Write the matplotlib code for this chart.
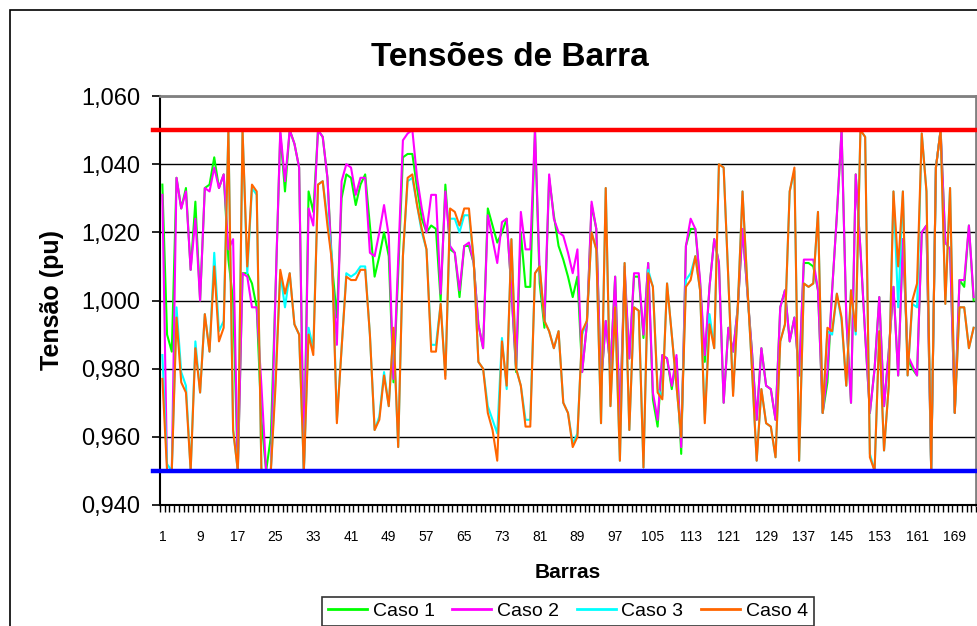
import numpy as np
import matplotlib
matplotlib.use("Agg")
import matplotlib.pyplot as plt
from matplotlib.ticker import FuncFormatter
from matplotlib.patches import Rectangle

plt.rcParams['font.family'] = ['Liberation Sans', 'DejaVu Sans']

# Tensões por barra (pu)
caso1 = [
    1.034, 0.990, 0.985, 1.036, 1.027, 1.033, 1.009, 1.029, 1.000, 1.033,
    1.034, 1.042, 1.033, 1.037, 1.012, 1.000, 0.950, 1.008, 1.008, 1.005,
    0.998, 0.965, 0.950, 0.960, 1.003, 1.049, 1.032, 1.050, 1.046, 1.039,
    0.950, 1.032, 1.026, 1.050, 1.048, 1.036, 1.010, 0.995, 1.030, 1.037,
    1.036, 1.028, 1.034, 1.037, 1.022, 1.007, 1.013, 1.020, 1.013, 0.976,
    1.008, 1.042, 1.043, 1.043, 1.033, 1.024, 1.020, 1.022, 1.021, 1.000,
    1.034, 1.015, 1.014, 1.001, 1.016, 1.016, 1.011, 0.993, 0.986, 1.027,
    1.022, 1.017, 1.020, 1.024, 1.003, 0.979, 1.020, 1.004, 1.004, 1.050,
    1.005, 0.992, 1.036, 1.025, 1.016, 1.012, 1.007, 1.001, 1.007, 0.979,
    0.993, 1.028, 1.021, 0.975, 0.994, 0.980, 1.007, 0.965, 1.008, 0.983,
    1.007, 1.007, 0.989, 1.011, 0.971, 0.963, 0.984, 0.983, 0.974, 0.983,
    0.955, 1.016, 1.021, 1.021, 1.005, 0.982, 1.004, 1.018, 1.011, 0.970,
    0.992, 0.985, 0.998, 1.021, 1.003, 0.985, 0.965, 0.986, 0.975, 0.974,
    0.965, 0.998, 1.003, 0.988, 0.995, 0.978, 1.011, 1.011, 1.010, 1.003,
    0.967, 0.976, 1.003, 1.025, 1.050, 0.995, 0.970, 1.037, 1.015, 0.990,
    0.967, 0.980, 1.001, 0.969, 0.985, 1.004, 0.978, 1.018, 0.983, 0.980,
    0.978, 1.020, 1.022, 0.950, 1.039, 1.050, 1.017, 1.015, 0.967, 1.006,
    1.004, 1.022, 1.000,
]
caso2 = [
    1.031, 0.950, 0.950, 1.036, 1.027, 1.032, 1.009, 1.024, 1.000, 1.033,
    1.032, 1.039, 1.033, 1.037, 1.015, 1.018, 0.950, 1.008, 1.007, 0.998,
    0.998, 0.975, 0.950, 0.950, 1.003, 1.050, 1.035, 1.050, 1.046, 1.039,
    0.950, 1.027, 1.022, 1.050, 1.048, 1.036, 1.008, 0.987, 1.035, 1.040,
    1.039, 1.031, 1.036, 1.036, 1.014, 1.013, 1.020, 1.028, 1.019, 0.977,
    1.012, 1.047, 1.049, 1.050, 1.036, 1.027, 1.020, 1.031, 1.031, 1.002,
    1.032, 1.016, 1.014, 1.003, 1.016, 1.017, 1.011, 0.993, 0.986, 1.025,
    1.018, 1.011, 1.023, 1.024, 1.003, 0.980, 1.026, 1.015, 1.015, 1.050,
    1.008, 0.994, 1.037, 1.024, 1.020, 1.019, 1.014, 1.008, 1.015, 0.979,
    0.993, 1.029, 1.021, 0.975, 0.994, 0.980, 1.007, 0.965, 1.010, 0.983,
    1.008, 1.008, 0.990, 1.011, 0.973, 0.965, 0.984, 0.983, 0.975, 0.984,
    0.957, 1.016, 1.024, 1.021, 1.006, 0.984, 1.004, 1.018, 1.011, 0.970,
    0.992, 0.985, 0.998, 1.021, 1.003, 0.985, 0.965, 0.986, 0.975, 0.974,
    0.965, 0.998, 1.003, 0.988, 0.995, 0.978, 1.012, 1.012, 1.012, 1.003,
    0.967, 0.979, 1.003, 1.025, 1.050, 0.995, 0.970, 1.037, 1.015, 0.990,
    0.967, 0.980, 1.001, 0.969, 0.985, 1.004, 0.978, 1.018, 0.984, 0.981,
    0.978, 1.020, 1.022, 0.950, 1.039, 1.050, 1.017, 1.015, 0.967, 1.006,
    1.006, 1.022, 1.001,
]
caso3 = [
    0.984, 0.952, 0.950, 0.998, 0.979, 0.975, 0.950, 0.988, 0.973, 0.996,
    0.985, 1.014, 0.991, 0.994, 1.050, 0.962, 0.950, 1.050, 1.008, 1.033,
    1.031, 0.950, 0.950, 0.950, 0.978, 1.008, 0.998, 1.008, 0.993, 0.990,
    0.950, 0.992, 0.986, 1.034, 1.035, 1.024, 1.012, 0.965, 0.986, 1.008,
    1.007, 1.008, 1.010, 1.010, 0.990, 0.962, 0.966, 0.979, 0.969, 0.991,
    0.957, 1.013, 1.035, 1.036, 1.028, 1.020, 1.015, 0.987, 0.987, 0.999,
    0.978, 1.024, 1.024, 1.020, 1.025, 1.025, 1.012, 0.982, 0.980, 0.969,
    0.965, 0.961, 0.989, 0.974, 1.018, 0.980, 0.975, 0.965, 0.965, 1.008,
    1.010, 0.994, 0.991, 0.986, 0.991, 0.970, 0.967, 0.958, 0.961, 0.990,
    0.994, 1.020, 1.015, 0.964, 1.033, 0.969, 0.998, 0.953, 1.011, 0.962,
    0.998, 0.997, 0.951, 1.009, 1.004, 0.974, 0.972, 1.005, 0.990, 0.975,
    0.960, 1.006, 1.008, 1.013, 1.003, 0.965, 0.996, 0.986, 1.040, 1.039,
    1.006, 0.973, 0.998, 1.032, 1.005, 0.980, 0.953, 0.974, 0.964, 0.963,
    0.954, 0.988, 0.993, 1.032, 1.038, 0.953, 1.005, 1.004, 1.005, 1.026,
    0.967, 0.991, 0.990, 1.002, 0.994, 0.975, 1.003, 0.990, 1.050, 1.048,
    0.955, 0.950, 0.991, 0.956, 0.975, 1.032, 0.998, 1.032, 0.978, 0.999,
    0.998, 1.049, 1.032, 0.950, 1.039, 1.050, 0.999, 1.033, 0.967, 0.998,
    0.998, 0.986, 0.992,
]
caso4 = [
    0.977, 0.950, 0.950, 0.995, 0.976, 0.973, 0.950, 0.986, 0.973, 0.996,
    0.985, 1.010, 0.988, 0.992, 1.050, 0.962, 0.950, 1.050, 1.010, 1.034,
    1.032, 0.950, 0.950, 0.950, 0.975, 1.009, 1.002, 1.008, 0.993, 0.990,
    0.950, 0.990, 0.984, 1.034, 1.035, 1.022, 1.011, 0.964, 0.986, 1.007,
    1.006, 1.006, 1.009, 1.009, 0.990, 0.962, 0.965, 0.978, 0.969, 0.992,
    0.957, 1.013, 1.036, 1.037, 1.028, 1.021, 1.015, 0.985, 0.985, 0.999,
    0.977, 1.027, 1.026, 1.022, 1.027, 1.027, 1.012, 0.982, 0.980, 0.967,
    0.962, 0.953, 0.988, 0.975, 1.018, 0.980, 0.975, 0.963, 0.963, 1.008,
    1.010, 0.994, 0.991, 0.986, 0.991, 0.970, 0.967, 0.957, 0.960, 0.991,
    0.994, 1.020, 1.015, 0.964, 1.033, 0.969, 0.998, 0.953, 1.011, 0.962,
    0.998, 0.997, 0.951, 1.008, 1.004, 0.973, 0.971, 1.005, 0.990, 0.975,
    0.960, 1.004, 1.006, 1.013, 1.003, 0.964, 0.993, 0.986, 1.040, 1.039,
    1.006, 0.972, 0.998, 1.032, 1.005, 0.980, 0.953, 0.974, 0.964, 0.963,
    0.954, 0.988, 0.993, 1.032, 1.039, 0.953, 1.005, 1.004, 1.005, 1.026,
    0.967, 0.992, 0.991, 1.002, 0.995, 0.975, 1.003, 0.991, 1.050, 1.048,
    0.954, 0.950, 0.991, 0.956, 0.975, 1.032, 1.010, 1.032, 0.978, 1.000,
    1.005, 1.049, 1.032, 0.950, 1.039, 1.050, 0.999, 1.033, 0.967, 0.998,
    0.998, 0.986, 0.992,
]

series_names = ["Caso 1", "Caso 2", "Caso 3", "Caso 4"]
series_colors = ["#00FF00", "#FF00FF", "#00FFFF", "#FF6600"]

x_labels = ["1", "9", "17", "25", "33", "41", "49", "57", "65", "73", "81",
            "89", "97", "105", "113", "121", "129", "137", "145", "153",
            "161", "169"]
y_ticks = [0.940, 0.960, 0.980, 1.000, 1.020, 1.040, 1.060]

v_max = 1.050  # limite superior
v_min = 0.950  # limite inferior

W, H = 978, 626


def px(x0, y0, x1, y1):
    # pixel box (top-left origin) -> figure fraction rect
    return [x0 / W, 1 - y1 / H, (x1 - x0) / W, (y1 - y0) / H]


def main():
    fig = plt.figure(figsize=(W / 100, H / 100), dpi=100)

    # chart border
    fig.patches.append(Rectangle((10 / W, -0.05), 1.2, 1 - 10 / H + 0.05,
                                 transform=fig.transFigure, fill=False,
                                 edgecolor="black", linewidth=1.2))

    ax = fig.add_axes(px(160, 96, 976, 505))

    data = [caso1, caso2, caso3, caso4]
    n = len(caso1)
    bars = np.arange(1, n + 1)

    for vals, name, col in zip(data, series_names, series_colors):
        ax.plot(bars, vals, color=col, linewidth=1.5, label=name, zorder=2)

    ax.axhline(v_max, xmin=-0.008, xmax=1, color="#FF0000", linewidth=3.2,
               clip_on=False, zorder=3)
    ax.axhline(v_min, xmin=-0.008, xmax=1, color="#0000FF", linewidth=3.2,
               clip_on=False, zorder=3)

    ax.set_xlim(0.5, n + 0.5)
    ax.set_ylim(0.940, 1.060)

    ax.set_yticks(y_ticks)
    ax.yaxis.set_major_formatter(FuncFormatter(lambda v, p: f"{v:.3f}".replace(".", ",")))
    ax.tick_params(axis="y", length=6, width=1.2, direction="out",
                   labelsize=17, pad=8)

    ax.set_xticks(bars[::8])
    ax.set_xticklabels(x_labels)
    ax.set_xticks(np.arange(0.5, n + 1, 1), minor=True)
    ax.tick_params(axis="x", which="major", length=0, labelsize=10, pad=18)
    ax.tick_params(axis="x", which="minor", length=5, width=1, direction="out")

    ax.set_axisbelow(True)
    ax.yaxis.grid(True, color="black", linewidth=1.0)

    for side in ["top", "right"]:
        ax.spines[side].set_color("#808080")
        ax.spines[side].set_linewidth(2)
    for side in ["left", "bottom"]:
        ax.spines[side].set_color("black")
        ax.spines[side].set_linewidth(1.5)

    fig.text(510 / W, 1 - 58 / H, "Tensões de Barra", ha="center", va="center",
             fontsize=24, fontweight="bold")
    fig.text(52 / W, 1 - 300 / H, "Tensão (pu)", ha="center", va="center",
             rotation=90, fontsize=18, fontweight="bold")
    fig.text(568 / W, 1 - 572 / H, "Barras", ha="center", va="center",
             fontsize=15, fontweight="bold")

    leg = fig.legend(loc="upper center", bbox_to_anchor=(568 / W, 1 - 587 / H),
                     ncol=4, fontsize=14, frameon=True, fancybox=False,
                     edgecolor="black", handlelength=2.0, handletextpad=0.3,
                     columnspacing=0.9, borderpad=0.3)
    leg.get_frame().set_linewidth(1.2)
    for line in leg.get_lines():
        line.set_linewidth(2)

    fig.savefig("out.png", dpi=100, facecolor="white")


if __name__ == "__main__":
    main()
